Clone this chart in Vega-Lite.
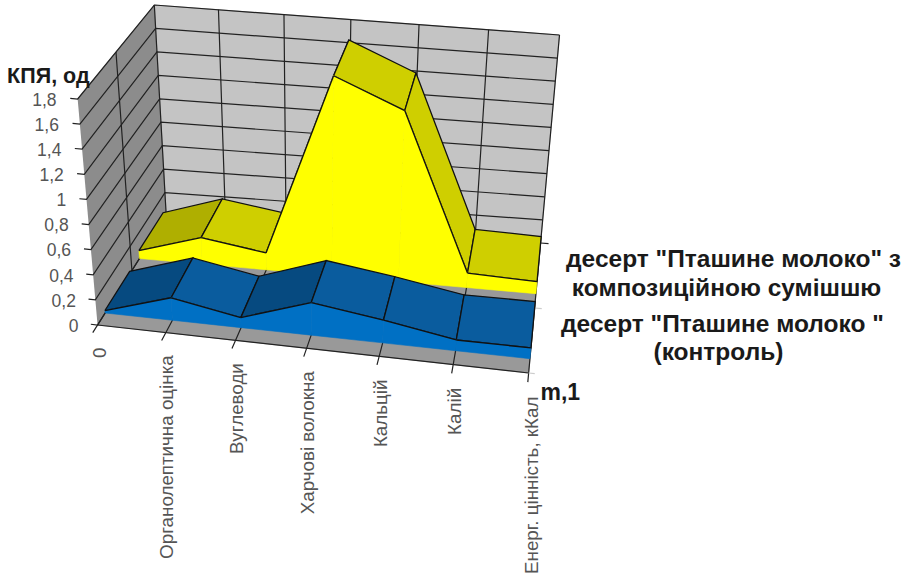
{
"$schema":"https://vega.github.io/schema/vega-lite/v6.json",
"width":901,"height":579,"padding":0,
"autosize":{"type":"fit","contains":"padding"},
"background":"white",
"config":{"view":{"stroke":null}},
"datasets":{
"series":[
{"series":"control","m":0,"category":"0","value":0.02},
{"series":"control","m":1,"category":"Органолептична оцінка","value":0.18},
{"series":"control","m":2,"category":"Вуглеводи","value":0.08},
{"series":"control","m":3,"category":"Харчові волокна","value":0.26},
{"series":"control","m":4,"category":"Кальцій","value":0.18},
{"series":"control","m":5,"category":"Калій","value":0.085},
{"series":"control","m":6,"category":"Енерг. цінність, кКал","value":0.085},
{"series":"mix","m":0,"category":"0","value":0.065},
{"series":"mix","m":1,"category":"Органолептична оцінка","value":0.22},
{"series":"mix","m":2,"category":"Вуглеводи","value":0.14},
{"series":"mix","m":3,"category":"Харчові волокна","value":1.66},
{"series":"mix","m":4,"category":"Кальцій","value":1.42},
{"series":"mix","m":5,"category":"Калій","value":0.12},
{"series":"mix","m":6,"category":"Енерг. цінність, кКал","value":0.1}
],
"walls":[
{"g":"back","mm":[0,6,6,0],"val":[0,0,1.8,1.8],"w":[1,1,1,1],"ord":[0,1,2,3]},
{"g":"left","mm":[0,0,0,0],"val":[0,0,1.8,1.8],"w":[0,1,1,0],"ord":[0,1,2,3]},
{"g":"floor","mm":[0,6,6,0],"val":[0,0,0,0],"w":[0,0,1,1],"ord":[0,1,2,3]}
],
"grid":[
{"g":"h0","mm":[-0.1,0,0,6],"val":[0,0,0,0],"w":[0,0,1,1],"ord":[0,1,2,3]},
{"g":"h1","mm":[-0.1,0,0,6],"val":[0.2,0.2,0.2,0.2],"w":[0,0,1,1],"ord":[0,1,2,3]},
{"g":"h2","mm":[-0.1,0,0,6],"val":[0.4,0.4,0.4,0.4],"w":[0,0,1,1],"ord":[0,1,2,3]},
{"g":"h3","mm":[-0.1,0,0,6],"val":[0.6,0.6,0.6,0.6],"w":[0,0,1,1],"ord":[0,1,2,3]},
{"g":"h4","mm":[-0.1,0,0,6],"val":[0.8,0.8,0.8,0.8],"w":[0,0,1,1],"ord":[0,1,2,3]},
{"g":"h5","mm":[-0.1,0,0,6],"val":[1,1,1,1],"w":[0,0,1,1],"ord":[0,1,2,3]},
{"g":"h6","mm":[-0.1,0,0,6],"val":[1.2,1.2,1.2,1.2],"w":[0,0,1,1],"ord":[0,1,2,3]},
{"g":"h7","mm":[-0.1,0,0,6],"val":[1.4,1.4,1.4,1.4],"w":[0,0,1,1],"ord":[0,1,2,3]},
{"g":"h8","mm":[-0.1,0,0,6],"val":[1.6,1.6,1.6,1.6],"w":[0,0,1,1],"ord":[0,1,2,3]},
{"g":"h9","mm":[-0.1,0,0,6],"val":[1.8,1.8,1.8,1.8],"w":[0,0,1,1],"ord":[0,1,2,3]},
{"g":"v0","mm":[0,0,0],"val":[0,0,1.8],"w":[-0.07,1,1],"ord":[0,1,2]},
{"g":"v1","mm":[1,1,1],"val":[0,0,1.8],"w":[-0.07,1,1],"ord":[0,1,2]},
{"g":"v2","mm":[2,2,2],"val":[0,0,1.8],"w":[-0.07,1,1],"ord":[0,1,2]},
{"g":"v3","mm":[3,3,3],"val":[0,0,1.8],"w":[-0.07,1,1],"ord":[0,1,2]},
{"g":"v4","mm":[4,4,4],"val":[0,0,1.8],"w":[-0.07,1,1],"ord":[0,1,2]},
{"g":"v5","mm":[5,5,5],"val":[0,0,1.8],"w":[-0.07,1,1],"ord":[0,1,2]},
{"g":"v6","mm":[6,6,6],"val":[0,0,1.8],"w":[-0.07,1,1],"ord":[0,1,2]},
{"g":"mid","mm":[6,0,0],"val":[0,0,1.8],"w":[0.5,0.5,0.5],"ord":[0,1,2]},
{"g":"front","mm":[0,6],"val":[0,0],"w":[0,0],"ord":[0,1]},
{"g":"rtick","mm":[6,6.12],"val":[0,0],"w":[1,1],"ord":[0,1]},
{"g":"light-mid","mm":[6,6.1],"val":[0,0],"w":[0.5,0.5],"ord":[0,1]},
{"g":"light-front","mm":[6,6.08],"val":[0,0],"w":[0,0],"ord":[0,1]}
],
"labels":[
{"kind":"tick","text":"0","mm":-0.3,"val":0,"w":0},
{"kind":"tick","text":"0,2","mm":-0.3,"val":0.2,"w":0},
{"kind":"tick","text":"0,4","mm":-0.3,"val":0.4,"w":0},
{"kind":"tick","text":"0,6","mm":-0.3,"val":0.6,"w":0},
{"kind":"tick","text":"0,8","mm":-0.3,"val":0.8,"w":0},
{"kind":"tick","text":"1","mm":-0.3,"val":1,"w":0},
{"kind":"tick","text":"1,2","mm":-0.3,"val":1.2,"w":0},
{"kind":"tick","text":"1,4","mm":-0.3,"val":1.4,"w":0},
{"kind":"tick","text":"1,6","mm":-0.3,"val":1.6,"w":0},
{"kind":"tick","text":"1,8","mm":-0.3,"val":1.8,"w":0},
{"kind":"cat","text":"0","mm":0,"val":-0.18,"w":0},
{"kind":"cat","text":"Органолептична оцінка","mm":1,"val":-0.18,"w":0},
{"kind":"cat","text":"Вуглеводи","mm":2.01,"val":-0.18,"w":0},
{"kind":"cat","text":"Харчові волокна","mm":3.02,"val":-0.18,"w":0},
{"kind":"cat","text":"Кальцій","mm":4.04,"val":-0.18,"w":0},
{"kind":"cat","text":"Калій","mm":5.04,"val":-0.18,"w":0},
{"kind":"cat","text":"Енерг. цінність, кКал","mm":6.07,"val":-0.18,"w":0},
{"kind":"name","text":"десерт \"Пташине молоко\" з","mm":8.34,"val":1.035,"w":0},
{"kind":"name","text":"композиційною сумішшю","mm":8.316,"val":0.808,"w":0},
{"kind":"name","text":"десерт \"Пташине молоко \"","mm":8.34,"val":0.531,"w":0},
{"kind":"name","text":"(контроль)","mm":8.35,"val":0.314,"w":0},
{"kind":"mtitle","text":"m,1","mm":6.18,"val":-0.146,"w":0},
{"kind":"ytitle","text":"КПЯ, од","mm":-0.934,"val":1.94,"w":0}
]
},
"encoding":{
"x":{"field":"px","type":"quantitative","scale":{"domain":[0,901],"nice":false,"zero":false},"axis":null},
"y":{"field":"py","type":"quantitative","scale":{"domain":[579,0],"nice":false,"zero":false},"axis":null}
},
"layer":[
{
"data":{"name":"walls"},
"transform":[
{"flatten":["mm","val","w","ord"]},
{"calculate":"(datum.mm/6)*(0.94+0.06*datum.mm/6)","as":"u"},
{"calculate":"datum.val/1.8","as":"v"},
{"calculate":"(1-datum.v)*((98+433*datum.u)*(1-datum.w)+(167+376*datum.u)*datum.w)+datum.v*((78+475*datum.u)*(1-datum.w)+(155+407*datum.u)*datum.w)","as":"px"},
{"calculate":"(1-datum.v)*((325+48*datum.u)*(1-datum.w)+(216+27*datum.u)*datum.w)+datum.v*((99+44*datum.u)*(1-datum.w)+(5+30*datum.u)*datum.w)","as":"py"}
],
"mark":{"type":"line","strokeWidth":0.5,"stroke":"#777"},
"encoding":{
"order":{"field":"ord","type":"quantitative"},
"fill":{"field":"g","type":"nominal","scale":{"domain":["back","left","floor","mix-rise","mix-fall","mix-front","control-rise","control-fall","control-front"],"range":["#c4c4c4","#8c8c8c","#999999","#afaf00","#cfcf00","#ffff00","#064a80","#0a5c9e","#0070c4"]},"legend":null}
}
},
{
"data":{"name":"grid"},
"transform":[
{"flatten":["mm","val","w","ord"]},
{"calculate":"(datum.mm/6)*(0.94+0.06*datum.mm/6)","as":"u"},
{"calculate":"datum.val/1.8","as":"v"},
{"calculate":"(1-datum.v)*((98+433*datum.u)*(1-datum.w)+(167+376*datum.u)*datum.w)+datum.v*((78+475*datum.u)*(1-datum.w)+(155+407*datum.u)*datum.w)","as":"px"},
{"calculate":"(1-datum.v)*((325+48*datum.u)*(1-datum.w)+(216+27*datum.u)*datum.w)+datum.v*((99+44*datum.u)*(1-datum.w)+(5+30*datum.u)*datum.w)","as":"py"}
],
"layer":[
{"transform":[{"filter":"!test(/^light/,datum.g)"}],
"mark":{"type":"line","strokeWidth":1.2,"stroke":"#222"},
"encoding":{"order":{"field":"ord","type":"quantitative"},"detail":{"field":"g","type":"nominal"}}},
{"transform":[{"filter":"test(/^light/,datum.g)"}],
"mark":{"type":"line","strokeWidth":1.2,"stroke":"#ccc"},
"encoding":{"order":{"field":"ord","type":"quantitative"},"detail":{"field":"g","type":"nominal"}}}
]
},
{
"data":{"name":"series"},
"transform":[
{"window":[{"op":"lead","field":"value","as":"next"}],"groupby":["series"],"sort":[{"field":"m"}]},
{"filter":"datum.m<6"},
{"calculate":"[0,1,2,3,4,0,1,2,3,4]","as":"ord"},
{"calculate":"['r','r','r','r','r','f','f','f','f','f']","as":"face"},
{"flatten":["ord","face"]},
{"calculate":"datum.series=='mix'?0.61:0.11","as":"wF"},
{"calculate":"datum.series=='mix'?0.96:0.47","as":"wB"},
{"calculate":"(datum.ord==1||datum.ord==2)?datum.m+1:datum.m","as":"mm"},
{"calculate":"(datum.face=='f'&&(datum.ord==2||datum.ord==3))?0:((datum.ord==1||datum.ord==2)?datum.next:datum.value)","as":"val"},
{"calculate":"(datum.face=='r'&&(datum.ord==2||datum.ord==3))?datum.wB:datum.wF","as":"w"},
{"calculate":"datum.series+'-'+datum.m+'-'+datum.face","as":"poly"},
{"calculate":"datum.face=='f'?datum.series+'-front':(datum.next>datum.value?datum.series+'-rise':datum.series+'-fall')","as":"g"},
{"calculate":"(datum.mm/6)*(0.94+0.06*datum.mm/6)","as":"u"},
{"calculate":"datum.val/1.8","as":"v"},
{"calculate":"(1-datum.v)*((98+433*datum.u)*(1-datum.w)+(167+376*datum.u)*datum.w)+datum.v*((78+475*datum.u)*(1-datum.w)+(155+407*datum.u)*datum.w)","as":"px"},
{"calculate":"(1-datum.v)*((325+48*datum.u)*(1-datum.w)+(216+27*datum.u)*datum.w)+datum.v*((99+44*datum.u)*(1-datum.w)+(5+30*datum.u)*datum.w)","as":"py"}
],
"layer":[
{"transform":[{"filter":"datum.series=='mix'&&datum.face=='r'"}],
"mark":{"type":"line","strokeWidth":1.3,"stroke":"#111"},
"encoding":{"order":{"field":"ord","type":"quantitative"},"detail":{"field":"poly","type":"nominal"},
"fill":{"field":"g","type":"nominal","legend":null}}},
{"transform":[{"filter":"datum.series=='mix'&&datum.face=='f'"}],
"mark":{"type":"line","strokeWidth":0.6,"stroke":"#ffff00"},
"encoding":{"order":{"field":"ord","type":"quantitative"},"detail":{"field":"poly","type":"nominal"},
"fill":{"field":"g","type":"nominal","legend":null}}},
{"transform":[{"filter":"datum.series=='mix'&&datum.face=='f'&&datum.ord<=1"}],
"mark":{"type":"line","strokeWidth":1.3,"stroke":"#111"},
"encoding":{"order":{"field":"ord","type":"quantitative"},"detail":{"field":"poly","type":"nominal"}}},
{"transform":[{"filter":"datum.series=='control'&&datum.face=='r'"}],
"mark":{"type":"line","strokeWidth":1.3,"stroke":"#111"},
"encoding":{"order":{"field":"ord","type":"quantitative"},"detail":{"field":"poly","type":"nominal"},
"fill":{"field":"g","type":"nominal","legend":null}}},
{"transform":[{"filter":"datum.series=='control'&&datum.face=='f'"}],
"mark":{"type":"line","strokeWidth":0.6,"stroke":"#0070c4"},
"encoding":{"order":{"field":"ord","type":"quantitative"},"detail":{"field":"poly","type":"nominal"},
"fill":{"field":"g","type":"nominal","legend":null}}},
{"transform":[{"filter":"datum.series=='control'&&datum.face=='f'&&datum.ord<=1"}],
"mark":{"type":"line","strokeWidth":1.3,"stroke":"#111"},
"encoding":{"order":{"field":"ord","type":"quantitative"},"detail":{"field":"poly","type":"nominal"}}}
]
},
{
"data":{"name":"labels"},
"transform":[
{"calculate":"(datum.mm/6)*(0.94+0.06*datum.mm/6)","as":"u"},
{"calculate":"datum.val/1.8","as":"v"},
{"calculate":"(1-datum.v)*((98+433*datum.u)*(1-datum.w)+(167+376*datum.u)*datum.w)+datum.v*((78+475*datum.u)*(1-datum.w)+(155+407*datum.u)*datum.w)","as":"px"},
{"calculate":"(1-datum.v)*((325+48*datum.u)*(1-datum.w)+(216+27*datum.u)*datum.w)+datum.v*((99+44*datum.u)*(1-datum.w)+(5+30*datum.u)*datum.w)","as":"py"}
],
"layer":[
{"transform":[{"filter":"datum.kind=='tick'"}],
"mark":{"type":"text","align":"right","baseline":"middle","dy":4,"dx":1,"font":"Liberation Sans","fontSize":17.5,"fill":"#555"},
"encoding":{"text":{"field":"text"}}},
{"transform":[{"filter":"datum.kind=='cat'"}],
"mark":{"type":"text","align":"right","baseline":"middle","angle":270,"font":"Liberation Sans","fontSize":18.8,"fill":"#555"},
"encoding":{"text":{"field":"text"}}},
{"transform":[{"filter":"datum.kind=='name'"}],
"mark":{"type":"text","align":"center","baseline":"middle","font":"Liberation Sans","fontWeight":"bold","fontSize":24.5,"fill":"#1a1a1a"},
"encoding":{"text":{"field":"text"}}},
{"transform":[{"filter":"datum.kind=='mtitle'"}],
"mark":{"type":"text","align":"left","baseline":"middle","font":"Liberation Sans","fontWeight":"bold","fontSize":23,"fill":"#1a1a1a"},
"encoding":{"text":{"field":"text"}}},
{"transform":[{"filter":"datum.kind=='ytitle'"}],
"mark":{"type":"text","align":"left","baseline":"middle","dy":2,"font":"Liberation Sans","fontWeight":"bold","fontSize":21.5,"fill":"#1a1a1a"},
"encoding":{"text":{"field":"text"}}}
]
}
]
}
